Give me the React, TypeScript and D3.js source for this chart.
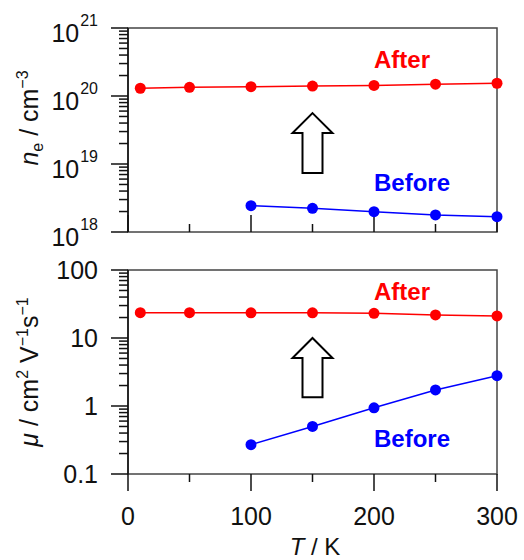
import { useEffect, useRef } from "react";
import * as d3 from "d3";

// temperatures (K)
const tAfter = [10, 50, 100, 150, 200, 250, 300];
const tBefore = [100, 150, 200, 250, 300];

// carrier density n_e (cm^-3)
const neAfter = [1.3e20, 1.34e20, 1.37e20, 1.4e20, 1.43e20, 1.49e20, 1.54e20];
const neBefore = [2.44e18, 2.23e18, 1.99e18, 1.78e18, 1.68e18];

// mobility (cm2 V-1 s-1)
const muAfter = [23.6, 23.6, 23.5, 23.5, 23.1, 21.8, 21.1];
const muBefore = [0.27, 0.5, 0.94, 1.72, 2.79];

const xTicks = [0, 50, 100, 150, 200, 250, 300];
const xLabels = [0, 100, 200, 300];
const neDecades = [18, 19, 20, 21];
const muTickLabels = ["0.1", "1", "10", "100"];

const FONT = "'Liberation Sans', Arial, sans-serif";

const App = () => {
    const svgRef = useRef<SVGSVGElement>(null);

    useEffect(() => {
        const svg = d3.select(svgRef.current);
        svg.selectAll("*").remove();

        const x = d3.scaleLinear().domain([0, 300]).range([128, 497]);
        const yTop = d3.scaleLog().domain([1e18, 1e21]).range([232, 28]);
        const yBot = d3.scaleLog().domain([0.1, 100]).range([474, 270]);

        const drawPanel = (y: d3.ScaleLogarithmic<number, number>, ticksUp: boolean) => {
            const [y0, y1] = y.range();
            const g = svg.append("g");
            // frame
            g.append("rect")
                .attr("x", 128).attr("y", y1)
                .attr("width", 369).attr("height", y0 - y1)
                .attr("fill", "none").attr("stroke", "#444").attr("stroke-width", 1.5);
            g.append("line").attr("x1", 128).attr("x2", 128).attr("y1", y1).attr("y2", y0)
                .attr("stroke", "#111").attr("stroke-width", 1.5);
            // y ticks
            const d = y.domain();
            const yt = y.ticks().filter((v) => v >= d[0] * 0.999 && v <= d[1] * 1.001);
            g.selectAll("line.yt").data(yt).join("line")
                .attr("x1", (v) => {
                    const m = v / Math.pow(10, Math.floor(Math.log10(v) + 1e-9));
                    return Math.abs(m - 1) < 1e-6 ? 111 : 119;
                })
                .attr("x2", 128)
                .attr("y1", (v) => y(v)).attr("y2", (v) => y(v))
                .attr("stroke", "#111").attr("stroke-width", 1.5);
            // x ticks
            g.selectAll("line.xt").data(xTicks).join("line")
                .attr("x1", (v) => x(v)).attr("x2", (v) => x(v))
                .attr("y1", y0)
                .attr("y2", (v) => {
                    const len = v % 100 === 0 ? 17 : 8;
                    return ticksUp ? y0 - len : y0 + len;
                })
                .attr("stroke", "#111").attr("stroke-width", 1.5);
            return g;
        };

        const top = drawPanel(yTop, true);
        const bot = drawPanel(yBot, false);

        // top tick labels 10^n
        neDecades.forEach((e) => {
            const yy = yTop(Math.pow(10, e));
            const t = top.append("text")
                .attr("x", 98).attr("y", yy + 14)
                .attr("text-anchor", "end")
                .attr("font-family", FONT).attr("font-size", 25).attr("fill", "#111");
            t.append("tspan").text("10");
            t.append("tspan").attr("font-size", 16).attr("dy", -16).attr("dx", 1).text(String(e));
        });

        // bottom tick labels
        muTickLabels.forEach((s) => {
            bot.append("text")
                .attr("x", 98).attr("y", yBot(+s) + 9)
                .attr("text-anchor", "end")
                .attr("font-family", FONT).attr("font-size", 25).attr("fill", "#111")
                .text(s);
        });

        // x tick labels
        bot.selectAll("text.xl").data(xLabels).join("text")
            .attr("x", (v) => x(v)).attr("y", 525)
            .attr("text-anchor", "middle")
            .attr("font-family", FONT).attr("font-size", 25).attr("fill", "#111")
            .text((v) => String(v));

        // x axis title
        const xt = svg.append("text")
            .attr("x", 315).attr("y", 555).attr("text-anchor", "middle")
            .attr("font-family", FONT).attr("font-size", 24).attr("fill", "#111");
        xt.append("tspan").attr("font-style", "italic").text("T");
        xt.append("tspan").text(" / K");

        // y axis titles
        const yt1 = svg.append("text")
            .attr("transform", "translate(38,118) rotate(-90)")
            .attr("text-anchor", "middle")
            .attr("font-family", FONT).attr("font-size", 25).attr("fill", "#111");
        yt1.append("tspan").attr("font-style", "italic").text("n");
        yt1.append("tspan").attr("font-size", 16).attr("dy", 5).text("e");
        yt1.append("tspan").attr("dy", -5).text(" / cm");
        yt1.append("tspan").attr("font-size", 16).attr("dy", -10).text("\u22123");

        const yt2 = svg.append("text")
            .attr("transform", "translate(38,372) rotate(-90)")
            .attr("text-anchor", "middle")
            .attr("font-family", FONT).attr("font-size", 25).attr("fill", "#111");
        yt2.append("tspan").attr("font-style", "italic").text("\u03bc");
        yt2.append("tspan").text(" / cm");
        yt2.append("tspan").attr("font-size", 16).attr("dy", -10).text("2");
        yt2.append("tspan").attr("dy", 10).text(" V");
        yt2.append("tspan").attr("font-size", 16).attr("dy", -10).text("\u22121");
        yt2.append("tspan").attr("dy", 10).text("s");
        yt2.append("tspan").attr("font-size", 16).attr("dy", -10).text("\u22121");

        // series
        const drawSeries = (
            g: d3.Selection<SVGGElement, unknown, null, undefined>,
            y: d3.ScaleLogarithmic<number, number>,
            ts: number[], vs: number[], color: string
        ) => {
            const pts = ts.map((t, i) => [t, vs[i]] as [number, number]);
            const line = d3.line<[number, number]>().x((p) => x(p[0])).y((p) => y(p[1]));
            g.append("path").attr("d", line(pts)).attr("fill", "none")
                .attr("stroke", color).attr("stroke-width", 1.5);
            g.selectAll(null).data(pts).join("circle")
                .attr("cx", (p) => x(p[0])).attr("cy", (p) => y(p[1]))
                .attr("r", 5.5).attr("fill", color);
        };
        drawSeries(top as any, yTop, tAfter, neAfter, "#ff0000");
        drawSeries(top as any, yTop, tBefore, neBefore, "#0000ff");
        drawSeries(bot as any, yBot, tAfter, muAfter, "#ff0000");
        drawSeries(bot as any, yBot, tBefore, muBefore, "#0000ff");

        // labels
        const label = (g: any, yv: number, txt: string, color: string) => {
            g.append("text").attr("x", x(200)).attr("y", yv)
                .attr("font-family", FONT).attr("font-size", 24).attr("font-weight", "bold")
                .attr("fill", color).text(txt);
        };
        label(top, yTop(2.6e20), "After", "#ff0000");
        label(top, yTop(4e18), "Before", "#0000ff");
        label(bot, yBot(36), "After", "#ff0000");
        label(bot, yBot(0.25), "Before", "#0000ff");

        // hollow up arrows
        const arrow = (g: any, yTip: number, yBase: number) => {
            const cx = x(150);
            const headH = 20;
            const pts: [number, number][] = [
                [cx, yTip], [cx + 20, yTip + headH], [cx + 10, yTip + headH],
                [cx + 10, yBase], [cx - 10, yBase], [cx - 10, yTip + headH],
                [cx - 20, yTip + headH],
            ];
            g.append("polygon").attr("points", pts.map((p) => p.join(",")).join(" "))
                .attr("fill", "white").attr("stroke", "#000").attr("stroke-width", 2);
        };
        arrow(top, yTop(5.6e19), yTop(7.4e18));
        arrow(bot, yBot(10), yBot(1.35));
    }, []);

    return (
        <svg ref={svgRef} width={524} height={560}
            style={{ position: "absolute", left: 0, top: 0, background: "white" }} />
    );
};

export default App;
